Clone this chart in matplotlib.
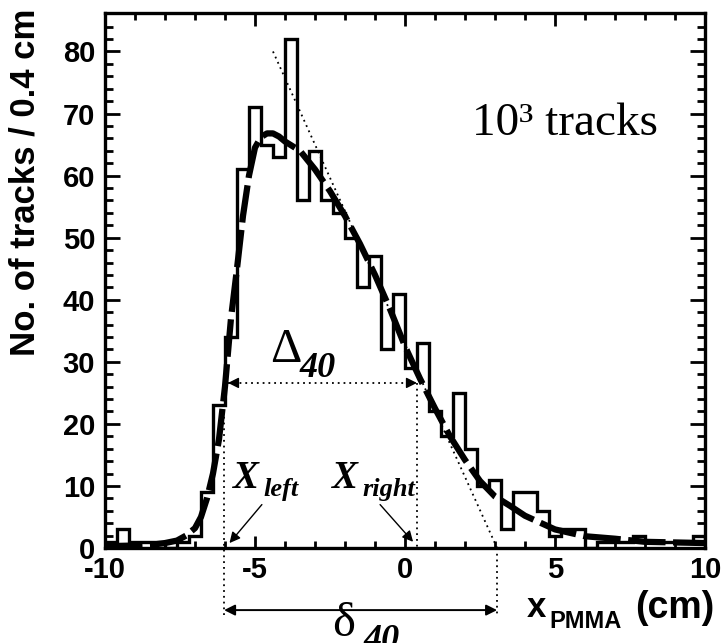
import numpy as np
import matplotlib
matplotlib.use("Agg")
import matplotlib.pyplot as plt

plt.rcParams["axes.unicode_minus"] = False

# histogram: 50 bins of 0.4 cm from -10 to 10
x_min, x_max, n_bins = -10.0, 10.0, 50
counts = [1, 3, 1, 1, 1, 0, 1, 2, 9, 23,
          34, 61, 71, 65, 63, 82, 56, 64, 56, 54,
          50, 42, 47, 32, 41, 29, 33, 22, 18, 25,
          16, 10, 11, 3, 9, 9, 6, 2, 3, 3,
          0, 1, 1, 1, 2, 1, 1, 1, 1, 2]

# fitted curve
fit_x = [-10, -9, -8.5, -8, -7.6, -7.3, -7.0, -6.8, -6.6, -6.4, -6.2, -6.0,
         -5.8, -5.6, -5.4, -5.2, -5.0, -4.8, -4.6, -4.4, -4.2, -4.0, -3.5,
         -3.0, -2.5, -2.0, -1.5, -1.0, -0.5, 0.0, 0.5, 1.0, 1.5, 2.0, 2.5,
         3.0, 3.5, 4.0, 5.0, 6.0, 7.0, 8.0, 9.0, 10.0]
fit_y = [0.3, 0.4, 0.5, 0.8, 1.2, 2.0, 3.2, 5.0, 8.0, 12.0, 17.5, 26.0,
         37.0, 45.0, 53.5, 60.0, 64.5, 66.2, 66.8, 66.8, 66.3, 65.5, 64.0,
         61.0, 57.5, 53.5, 49.0, 44.0, 38.5, 32.5, 27.3, 22.5, 18.0, 14.2, 10.8,
         8.3, 6.8, 5.2, 3.0, 1.9, 1.5, 1.0, 0.9, 0.8]

# tangent to the falling edge and the width markers
tangent_x = [-4.4, 3.07]
tangent_y = [80, 0]
level_40 = 26.6
x_left, x_right = -5.9, 0.4
delta_left, delta_right = -6.03, 3.07

sans = "Liberation Sans"
serif = "Liberation Serif"

fig = plt.figure(figsize=(7.21, 6.43), dpi=100)
ax = fig.add_axes([0.1456, 0.1477, 0.8322, 0.8321])

edges = np.linspace(x_min, x_max, n_bins + 1)
ax.stairs(counts, edges, color="black", lw=2.4, baseline=0)
ax.plot(fit_x, fit_y, color="black", lw=4.5, dashes=(6, 1.2),
        solid_capstyle="butt", dash_capstyle="butt")

dot = dict(color="black", lw=1.3, linestyle=(0, (1, 2.2)))
ax.plot(tangent_x, tangent_y, **dot)
ax.plot([x_left, x_right], [level_40, level_40], **dot)
ax.plot([x_right, x_right], [level_40, 0], **dot)
ax.plot([delta_left, delta_left], [22, -10.8], clip_on=False, **dot)
ax.plot([delta_right, delta_right], [0, -10.8], clip_on=False, **dot)

head = dict(arrowstyle="-|>", color="black", lw=1.0, mutation_scale=16,
            shrinkA=0, shrinkB=0)
# heads of the dotted Delta40 arrow
ax.annotate("", xy=(x_left, level_40), xytext=(x_left + 0.3, level_40),
            arrowprops=head)
ax.annotate("", xy=(x_right, level_40), xytext=(x_right - 0.3, level_40),
            arrowprops=head)
# pointers to X_left / X_right
ax.annotate("", xy=(-5.85, 0.8), xytext=(-4.77, 7.0), arrowprops=head)
ax.annotate("", xy=(0.27, 1.0), xytext=(-0.83, 7.0), arrowprops=head)
# delta40 arrow below the axis
ax.annotate("", xy=(delta_left, -10.0), xytext=(delta_right, -10.0),
            arrowprops=dict(arrowstyle="<|-|>", color="black", lw=1.4,
                            mutation_scale=16, shrinkA=0, shrinkB=0),
            annotation_clip=False)

# labels in the plot
ax.text(-4.5, 30.0, "\u0394", family=serif, fontsize=35, va="baseline")
ax.text(-3.5, 27.6, "40", family=serif, fontsize=26, weight="bold",
        style="italic", va="baseline")
ax.text(-2.43, -14.1, "\u03b4", family=serif, fontsize=35, va="baseline",
        clip_on=False)
ax.text(-1.37, -16.3, "40", family=serif, fontsize=26, weight="bold",
        style="italic", va="baseline", clip_on=False)
ax.text(-5.73, 9.7, "X", family=serif, fontsize=28, weight="bold",
        style="italic", va="baseline")
ax.text(-4.73, 8.4, "left", family=serif, fontsize=19, weight="bold",
        style="italic", va="baseline")
ax.text(-2.43, 9.7, "X", family=serif, fontsize=28, weight="bold",
        style="italic", va="baseline")
ax.text(-1.43, 8.4, "right", family=serif, fontsize=19, weight="bold",
        style="italic", va="baseline")
ax.text(2.23, 66.6, "10\u00b3 tracks", family=serif, fontsize=34,
        va="baseline")

ax.set_xlim(x_min, x_max)
ax.set_ylim(0, 86.2)
ax.set_xticks([-10, -5, 0, 5, 10])
ax.set_xticks(np.arange(-10, 11, 1), minor=True)
ax.set_yticks(np.arange(0, 81, 10))
ax.set_yticks(np.arange(0, 86, 2), minor=True)
ax.tick_params(axis="both", which="both", direction="in", top=True,
               right=True, width=2.0, labelsize=21)
ax.tick_params(axis="x", which="major", length=9, pad=6)
ax.tick_params(axis="x", which="minor", length=5)
ax.tick_params(axis="y", which="major", length=11, pad=7)
ax.tick_params(axis="y", which="minor", length=6)
for lab in ax.get_xticklabels() + ax.get_yticklabels():
    lab.set_family(sans)
    lab.set_weight("bold")
for sp in ax.spines.values():
    sp.set_linewidth(2.4)

fig.text(25 / 721, 1 - 182 / 643, "No. of tracks / 0.4 cm", family=sans,
         weight="bold", fontsize=25, rotation=90, ha="center", va="center")
fig.text(527 / 721, 1 - 617 / 643, "x", family=sans, weight="bold",
         fontsize=25, va="baseline")
fig.text(549 / 721, 1 - 628 / 643, "PMMA", family=sans, weight="bold",
         fontsize=17, va="baseline")
fig.text(714 / 721, 1 - 618 / 643, "(cm)", family=sans, weight="bold",
         fontsize=27, va="baseline", ha="right")

fig.savefig("out.png", dpi=100)
